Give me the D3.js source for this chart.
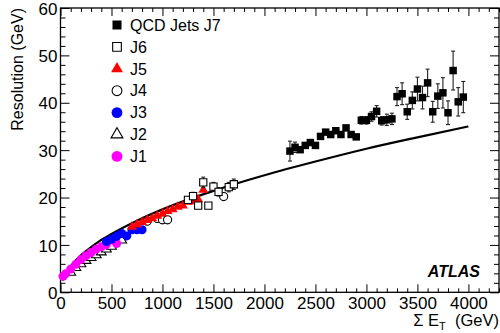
<!DOCTYPE html>
<html><head><meta charset="utf-8">
<script src="https://cdn.jsdelivr.net/npm/d3@7"></script>
<style>body{margin:0;background:#fff}svg{display:block;font-family:"Liberation Sans",Arial,Helvetica,sans-serif}</style>
</head><body>
<svg id="c" width="500" height="333"></svg>
<script>
// ---- data ----
const j7X = [2250,2300,2350,2400,2450,2500,2550,2600,2650,2700,2750,2800,2850,2900,2950,3000,3050,3100,3150,3200,3250,3300,3350,3400,3450,3500,3550,3600,3650,3700,3750,3800,3850,3900,3950];
const j7Y = [29.8,30.6,30.1,31.0,31.6,31.0,32.9,33.8,33.3,34.1,33.3,34.7,33.3,32.8,36.3,36.3,37.1,38.2,36.2,36.4,36.6,41.3,41.9,38.1,40.5,42.9,41.1,44.2,38.1,41.4,42.1,37.9,46.8,40.2,41.2];
const j7Err = [2.1,1.1,0.5,0.5,0.5,0.5,0.5,0.5,0.5,0.5,0.5,0.5,0.5,0.5,0.8,0.8,1.0,1.2,0.9,1.2,1.2,1.9,2.3,1.6,1.8,2.5,2.4,2.9,2.2,2.6,3.2,2.5,4.1,3.0,3.3];
const j6X = [1250,1300,1350,1400,1450,1500,1550,1650,1700];
const j6Y = [19.5,20.3,18.3,23.2,18.3,22.3,21.2,22.2,22.8];
const j6Err = [0.6,0.8,0.6,1.1,0.6,0.9,0.9,1.0,1.1];
const j5X = [700,750,800,850,900,950,1000,1050,1100,1150,1200,1250,1300,1350,1400];
const j5Y = [13.8,14.3,14.8,15.2,15.6,16.1,16.6,17.1,17.5,18.0,18.3,19.1,19.2,19.6,21.6];
const j4X = [850,950,1000,1050,1600];
const j4Y = [15.0,15.6,15.3,15.3,20.2];
const j3X = [450,500,550,600,650,700,750,800];
const j3Y = [10.7,11.2,11.8,12.4,11.9,13.2,13.2,13.2];
const j2X = [100,150,200,250,300,350,400,450,500,550,600];
const j2Y = [4.2,5.2,6.0,6.7,7.3,7.9,8.5,9.1,9.7,11.5,11.0];
const j1X = [25,50,100,150,200,250,300,350,400,450,500,550];
const j1Y = [3.4,3.9,4.9,5.9,6.9,7.7,8.4,9.1,9.6,10.1,11.1,10.3];
const fitX = [20,60,100,175,250,375,500,750,1000,1500,2000,2500,3000,3500,4000];
const fitY = [2.5,4.3,5.5,7.3,8.7,10.7,12.3,15.1,17.5,21.4,24.7,27.6,30.3,32.7,35.0];
const xTicks = [0,500,1000,1500,2000,2500,3000,3500,4000];
const yTicks = [0,10,20,30,40,50,60];
const legendLabels = ["QCD Jets J7","J6","J5","J4","J3","J2","J1"];

// ---- layout ----
const L = 60.5, R = 499, T = 8, B = 292.3;
const x = d3.scaleLinear().domain([0,4300]).range([L,R]);
const y = d3.scaleLinear().domain([0,60]).range([B,T]);
const svg = d3.select("#c");

const minorX = d3.range(0,4301,100).filter(v=>v%500!==0);
const minorY = d3.range(0,61,2).filter(v=>v%10!==0);

function ax(gen, tr, ticks, size, fmt){
  const g = svg.append("g").attr("transform",tr).call(gen.tickValues(ticks).tickSize(size).tickFormat(fmt));
  g.select(".domain").remove();
  g.selectAll("line").attr("stroke","#000").attr("stroke-width",1);
  return g;
}
// bottom
const gb = ax(d3.axisBottom(x), `translate(0,${B})`, xTicks, -8, d3.format("d"));
gb.selectAll("text").attr("dy",null).attr("y",16.5).attr("font-size",17).attr("fill","#000").attr("font-family","Liberation Sans, Arial, sans-serif");
ax(d3.axisBottom(x), `translate(0,${B})`, minorX, -4, "");
ax(d3.axisTop(x), `translate(0,${T})`, xTicks, -8, "");
ax(d3.axisTop(x), `translate(0,${T})`, minorX, -4, "");
const gl = ax(d3.axisLeft(y), `translate(${L},0)`, yTicks, -9, d3.format("d"));
gl.selectAll("text").attr("x",-3).attr("dy","0.36em").attr("font-size",17).attr("fill","#000").attr("font-family","Liberation Sans, Arial, sans-serif");
ax(d3.axisLeft(y), `translate(${L},0)`, minorY, -5, "");
ax(d3.axisRight(y), `translate(${R},0)`, yTicks, -9, "");
ax(d3.axisRight(y), `translate(${R},0)`, minorY, -5, "");
// frame
svg.append("rect").attr("x",L).attr("y",T).attr("width",R-L).attr("height",B-T)
  .attr("fill","none").attr("stroke","#000").attr("stroke-width",1.3);

// fit curve
svg.append("path").datum(fitX.map((v,i)=>[v,fitY[i]]))
  .attr("d", d3.line().x(d=>x(d[0])).y(d=>y(d[1])).curve(d3.curveMonotoneX))
  .attr("fill","none").attr("stroke","#000").attr("stroke-width",2.2);

// error bars
function errs(xs, ys, es){
  const g = svg.append("g").attr("stroke","#222").attr("stroke-width",1.1);
  xs.forEach((v,i)=>{
    const cx = x(v), y1 = y(ys[i]+es[i]), y2 = y(ys[i]-es[i]);
    g.append("line").attr("x1",cx).attr("x2",cx).attr("y1",y1).attr("y2",y2);
    g.append("line").attr("x1",cx-2).attr("x2",cx+2).attr("y1",y1).attr("y2",y1);
    g.append("line").attr("x1",cx-2).attr("x2",cx+2).attr("y1",y2).attr("y2",y2);
  });
}
const styles = {
  J7:{type:d3.symbolSquare,size:56,fill:"#000",stroke:"none"},
  J6:{type:d3.symbolSquare,size:52,fill:"#fff",stroke:"#000"},
  J5:{type:d3.symbolTriangle,size:42,fill:"#ff0000",stroke:"none"},
  J4:{type:d3.symbolCircle,size:52,fill:"#fff",stroke:"#000"},
  J3:{type:d3.symbolCircle,size:64,fill:"#0000ff",stroke:"none"},
  J2:{type:d3.symbolTriangle,size:42,fill:"#fff",stroke:"#000"},
  J1:{type:d3.symbolCircle,size:64,fill:"#ff00ff",stroke:"none"}
};
function pts(xs, ys, key){
  const s = styles[key];
  svg.append("g").selectAll("path").data(xs.map((v,i)=>[v,ys[i]])).join("path")
    .attr("transform",d=>`translate(${x(d[0])},${y(d[1])})`)
    .attr("d", d3.symbol().type(s.type).size(s.size))
    .attr("fill",s.fill).attr("stroke",s.stroke).attr("stroke-width",1.1);
}
pts(j2X,j2Y,"J2");
pts(j1X,j1Y,"J1");
pts(j4X,j4Y,"J4");
pts(j3X,j3Y,"J3");
pts(j5X,j5Y,"J5");
errs(j6X,j6Y,j6Err);
pts(j6X,j6Y,"J6");
errs(j7X,j7Y,j7Err);
pts(j7X,j7Y,"J7");

// legend
const lg = svg.append("g");
const keys = ["J7","J6","J5","J4","J3","J2","J1"];
keys.forEach((k,i)=>{
  const s = styles[k];
  const yy = 25 + i*21.9;
  lg.append("path").attr("transform",`translate(117,${yy})`)
    .attr("d", d3.symbol().type(s.type).size(s.size*1.45))
    .attr("fill",s.fill).attr("stroke",s.stroke).attr("stroke-width",1.1);
  lg.append("text").attr("x",130).attr("y",yy).attr("dy","0.36em")
    .attr("font-size",16).text(legendLabels[i]);
});

// axis titles
svg.append("text").attr("transform","translate(23,8) rotate(-90)").attr("text-anchor","end")
  .attr("font-size",16).text("Resolution (GeV)");
const xt = svg.append("text").attr("x",499).attr("y",326).attr("text-anchor","end").attr("font-size",16.5);
xt.append("tspan").text("Σ E");
xt.append("tspan").attr("font-size",11).attr("dy",4).text("T");
xt.append("tspan").attr("dy",-4).text("\u00a0\u00a0(GeV)");

svg.append("text").attr("x",480).attr("y",277).attr("text-anchor","end")
  .attr("font-size",16).attr("font-weight","bold").attr("font-style","italic").text("ATLAS");
</script>
</body></html>
